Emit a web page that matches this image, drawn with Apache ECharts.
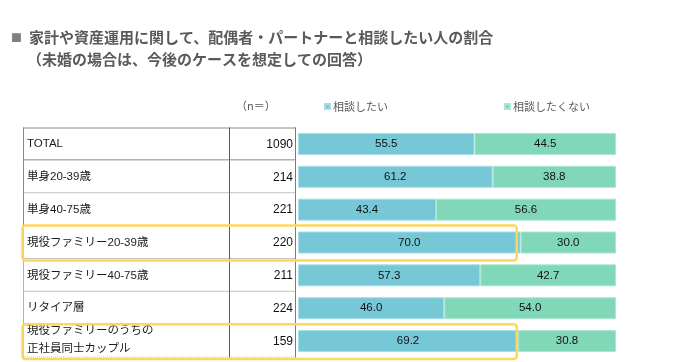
<!DOCTYPE html>
<html>
<head>
<meta charset="utf-8">
<script src="https://cdn.jsdelivr.net/npm/echarts@6/dist/echarts.min.js"></script>
<style>
html,body{margin:0;padding:0;background:#fff;}
#main{width:691px;height:362px;}
</style>
</head>
<body>
<div id="main"></div>
<script>
// ---- data ----
const categories = ['TOTAL', '単身20-39歳', '単身40-75歳', '現役ファミリー20-39歳', '現役ファミリー40-75歳', 'リタイア層', '現役ファミリーのうちの\n正社員同士カップル'];
const nValues = [1090, 214, 221, 220, 211, 224, 159];
const wantValues = [55.5, 61.2, 43.4, 70.0, 57.3, 46.0, 69.2];
const notWantValues = [44.5, 38.8, 56.6, 30.0, 42.7, 54.0, 30.8];
const seriesNames = ['相談したい', '相談したくない'];
const highlightRows = [3, 6];

const titleLine1 = '家計や資産運用に関して、配偶者・パートナーと相談したい人の割合';
const titleLine2 = '（未婚の場合は、今後のケースを想定しての回答）';
const nHeader = '（n＝）';

// ---- style ----
const BLUE = '#76C8D7';
const GREEN = '#80D8B8';
const YELLOW = '#FFD65C';
const LATIN = "'Liberation Sans', Arial, 'Noto Sans CJK JP', sans-serif";
const CJK = "'Noto Sans CJK JP', sans-serif";
const DIVIDER = 0.7546;      // fraction of table width where n column starts
const HIGHLIGHT_RIGHT = 68.8; // right edge of highlight box on bar scale

const chart = echarts.init(document.getElementById('main'), null, {renderer: 'canvas'});

const gridTop = 127.5, gridHeight = 230;

const tableRenderer = function (params, api) {
  const i = params.dataIndex;
  const cs = params.coordSys;
  const c = api.coord([0, i]);
  const h = api.size([0, 1])[1];
  const xl = cs.x, xr = cs.x + cs.width, xd = cs.x + cs.width * DIVIDER;
  const yt = c[1] - h / 2, yb = c[1] + h / 2;
  const children = [];
  const line = (x1, y1, x2, y2, color, dash) => children.push({
    type: 'line', shape: {x1, y1, x2, y2},
    style: {stroke: color, lineWidth: 1, lineDash: dash || null}
  });
  const last = i === categories.length - 1;
  if (i === 0) line(xl, yt + 0.5, xr, yt + 0.5, '#8a8a8a');
  line(xl, yb - 0.5, xr, yb - 0.5, i === 0 ? '#8a8a8a' : (last ? '#c8c8c8' : '#c4c4c4'), last ? [1, 1] : null);
  line(xl + 0.5, yt, xl + 0.5, yb, i < 3 ? '#8a8a8a' : '#b4b4b4');
  line(xd + 0.5, yt, xd + 0.5, yb, '#5a5a5a');
  line(xr - 0.5, yt, xr - 0.5, yb, '#7a7a7a');
  children.push({
    type: 'text',
    style: {
      text: categories[i], x: xl + 4, y: c[1] - (last ? 1 : 0),
      align: 'left', verticalAlign: 'middle',
      font: '11.5px ' + LATIN, fill: '#1a1a1a', lineHeight: 17.5
    }
  });
  children.push({
    type: 'text',
    style: {
      text: String(api.value(0)), x: xr - 3, y: c[1] + 0.5,
      align: 'right', verticalAlign: 'middle',
      font: '12px ' + LATIN, fill: '#111'
    }
  });
  return {type: 'group', children};
};

const barLabel = {
  show: true, position: 'inside', color: '#111',
  fontFamily: LATIN, fontSize: 11.5,
  formatter: p => Number(p.value).toFixed(1)
};

const option = {
  animation: false,
  backgroundColor: '#fff',
  title: [
    {text: '■', left: 11, top: 30, padding: 0,
     textStyle: {fontSize: 11, color: '#808080', fontFamily: CJK, fontWeight: 'normal', lineHeight: 15}},
    {text: titleLine1, left: 29, top: 30, padding: 0,
     textStyle: {fontSize: 15, color: '#5a5a5a', fontFamily: CJK, fontWeight: 'bold', lineHeight: 15}},
    {text: titleLine2, left: 27, top: 51.5, padding: 0,
     textStyle: {fontSize: 15, color: '#5a5a5a', fontFamily: CJK, fontWeight: 'bold', lineHeight: 15}}
  ],
  legend: {
    data: seriesNames, left: 324, top: 101, padding: 0,
    icon: 'rect', itemWidth: 5, itemHeight: 5, itemGap: 116,
    textStyle: {fontSize: 11, color: '#595959', fontFamily: CJK, padding: [0, 0, 0, -2]}
  },
  graphic: [
    {type: 'text', left: 236, top: 100,
     style: {text: nHeader, font: '11px ' + CJK, fill: '#595959'}}
  ],
  grid: [
    {left: 298, width: 318, top: gridTop, height: gridHeight},
    {left: 23, width: 273, top: gridTop, height: gridHeight}
  ],
  xAxis: [
    {type: 'value', gridIndex: 0, min: 0, max: 100, show: false},
    {type: 'value', gridIndex: 1, min: 0, max: 1, show: false}
  ],
  yAxis: [
    {type: 'category', gridIndex: 0, data: categories, inverse: true, show: false},
    {type: 'category', gridIndex: 1, data: categories, inverse: true, show: false}
  ],
  series: [
    {
      name: seriesNames[0], type: 'bar', stack: 'a', xAxisIndex: 0, yAxisIndex: 0,
      data: wantValues, barWidth: 22,
      itemStyle: {color: BLUE, borderColor: '#A6DEE8', borderWidth: 1},
      label: barLabel
    },
    {
      name: seriesNames[1], type: 'bar', stack: 'a', xAxisIndex: 0, yAxisIndex: 0,
      data: notWantValues, barWidth: 22,
      itemStyle: {color: GREEN, borderColor: '#AEE6D2', borderWidth: 1},
      label: barLabel
    },
    {
      type: 'custom', xAxisIndex: 1, yAxisIndex: 1,
      data: nValues.map((n, i) => [n, categories[i]]),
      encode: {x: 0, y: 1},
      renderItem: tableRenderer, silent: true, z: 1
    }
  ]
};

chart.setOption(option);

// yellow highlight boxes spanning table and bars
const boxes = highlightRows.map(idx => {
  const pTable = chart.convertToPixel({xAxisIndex: 1, yAxisIndex: 1}, [0, idx]);
  const pRight = chart.convertToPixel({xAxisIndex: 0, yAxisIndex: 0}, [HIGHLIGHT_RIGHT, idx]);
  const band = gridHeight / categories.length;
  const x = pTable[0] - 0.5;
  const y = pRight[1] - band / 2 - 0.5;
  return {
    type: 'rect', z: 100,
    shape: {x: x, y: y, width: pRight[0] - x, height: band + 2, r: 3},
    style: {fill: 'none', stroke: YELLOW, lineWidth: 2.5}
  };
});
chart.setOption({graphic: option.graphic.concat(boxes)});
</script>
</body>
</html>
